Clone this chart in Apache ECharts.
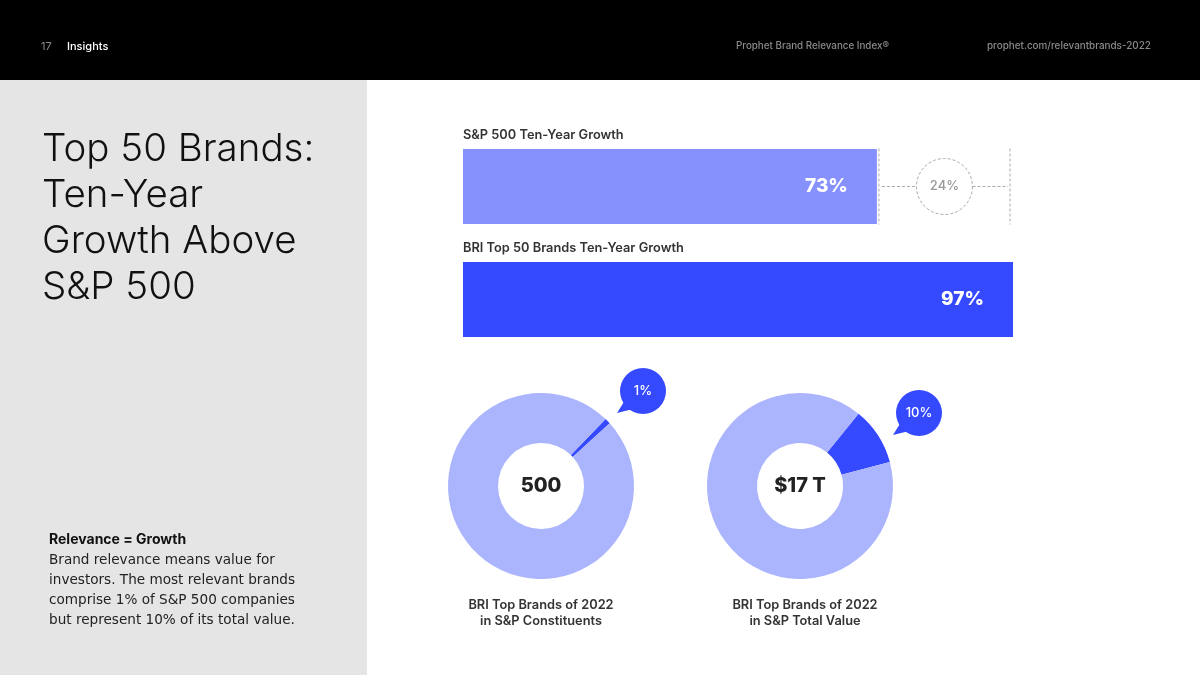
<!DOCTYPE html>
<html><head><meta charset="utf-8">
<script src="https://cdn.jsdelivr.net/npm/echarts@6/dist/echarts.min.js"></script>
<style>html,body{margin:0;padding:0;background:#fff}#c{width:1200px;height:675px}</style>
</head><body><div id="c"></div>
<script>
const barCategories = ['S&P 500 Ten-Year Growth', 'BRI Top 50 Brands Ten-Year Growth'];
const barValues = [73, 97];
const gapLabel = '24%';
const donutShares = [1, 10];
const donutCenterLabels = ['500', '$17 T'];
const donutCaptions = ['BRI Top Brands of 2022\nin S&P Constituents', 'BRI Top Brands of 2022\nin S&P Total Value'];
const titleLines = ['Top 50 Brands:', 'Ten-Year', 'Growth Above', 'S&P 500'];
const noteHead = 'Relevance = Growth';
const noteLines = ['Brand relevance means value for', 'investors. The most relevant brands', 'comprise 1% of S&P 500 companies', 'but represent 10% of its total value.'];

const C_BAR1 = '#8791fe', C_BAR2 = '#3549ff', C_LIGHT = '#abb5fd', C_DARK = '#3549ff';
const FONT = 'Inter, "Liberation Sans", sans-serif';

const chart = echarts.init(document.getElementById('c'), null, {renderer: 'canvas'});
const donutCenters = [[541, 486], [800, 486]];

const pieSeries = donutShares.map((s, i) => ({
  type: 'pie', radius: [43, 93], center: donutCenters[i],
  startAngle: i === 0 ? 46 : 51, clockwise: true, silent: true,
  label: {show: false}, labelLine: {show: false}, emphasis: {disabled: true},
  data: [{value: s, itemStyle: {color: C_DARK}}, {value: 100 - s, itemStyle: {color: C_LIGHT}}]
}));

chart.setOption({
  animation: false,
  backgroundColor: '#fff',
  grid: {left: 463, width: 550, top: 130, height: 226},
  xAxis: {type: 'value', min: 0, max: 97, show: false},
  yAxis: {type: 'category', data: barCategories, inverse: true, show: false},
  series: [{
    type: 'bar', barWidth: 75, silent: true,
    data: barValues.map((v, i) => ({value: v, itemStyle: {color: i === 0 ? C_BAR1 : C_BAR2}})),
    label: {show: true, position: 'insideRight', distance: 29, color: '#fff', fontSize: 19, fontWeight: 800, fontFamily: FONT, formatter: p => p.value + '%'}
  }].concat(pieSeries)
});

const g = [];
// left panel & header
g.push({type: 'rect', z: -10, shape: {x: 0, y: 80, width: 367, height: 595}, style: {fill: '#e5e5e5'}});
g.push({type: 'rect', z: -10, shape: {x: 0, y: 0, width: 1200, height: 80}, style: {fill: '#000'}});
g.push({type: 'text', x: 41, y: 47, style: {text: '17', fill: '#8a8a8a', font: '400 11px ' + FONT, verticalAlign: 'middle'}});
g.push({type: 'text', x: 67, y: 47, style: {text: 'Insights', fill: '#fff', font: '500 11px ' + FONT, verticalAlign: 'middle'}});
g.push({type: 'text', x: 736, y: 46, style: {text: 'Prophet Brand Relevance Index®', fill: '#8a8a8a', font: '500 9.8px ' + FONT, verticalAlign: 'middle'}});
g.push({type: 'text', x: 987, y: 46, style: {text: 'prophet.com/relevantbrands-2022', fill: '#8a8a8a', font: '500 9.9px ' + FONT, verticalAlign: 'middle'}});
// title
titleLines.forEach((t, i) => g.push({type: 'text', x: 42, y: 149 + i * 46, style: {text: t, fill: '#111', font: '300 38.5px ' + FONT, verticalAlign: 'middle'}}));
// note
g.push({type: 'text', x: 49, y: 540, style: {text: noteHead, fill: '#111', font: '700 14px ' + FONT, verticalAlign: 'middle'}});
noteLines.forEach((t, i) => g.push({type: 'text', x: 49, y: 560 + i * 20, style: {text: t, fill: '#222', font: '400 13.6px "DejaVu Sans", sans-serif', verticalAlign: 'middle'}}));

// bar category labels
barCategories.forEach((c, i) => {
  const y = chart.convertToPixel({yAxisIndex: 0}, i);
  g.push({type: 'text', x: 463, y: y - 51.5, style: {text: c, fill: '#333', font: '600 12.8px ' + FONT, verticalAlign: 'middle'}});
});
// gap annotation
const x73 = chart.convertToPixel({xAxisIndex: 0}, barValues[0]) + 2;
const x97 = chart.convertToPixel({xAxisIndex: 0}, barValues[1]) - 3;
const yb = chart.convertToPixel({yAxisIndex: 0}, 0);
const dash = {stroke: '#aaa', lineWidth: 1, lineDash: [3, 2]};
const cx = (x73 + x97) / 2, r = 28;
g.push({type: 'line', shape: {x1: x73, y1: yb - 38, x2: x73, y2: yb + 38}, style: dash});
g.push({type: 'line', shape: {x1: x97, y1: yb - 38, x2: x97, y2: yb + 38}, style: dash});
g.push({type: 'line', shape: {x1: x73 + 3, y1: yb, x2: cx - r, y2: yb}, style: dash});
g.push({type: 'line', shape: {x1: cx + r, y1: yb, x2: x97 - 2, y2: yb}, style: dash});
g.push({type: 'circle', shape: {cx: cx, cy: yb, r: r}, style: Object.assign({fill: 'none'}, dash)});
g.push({type: 'text', x: cx, y: yb, style: {text: gapLabel, fill: '#999', font: '500 13px ' + FONT, align: 'center', verticalAlign: 'middle'}});

// donut centers, captions, callouts
const bubbles = [[643, 391], [919, 413]];
donutCenters.forEach((c, i) => {
  g.push({type: 'text', x: c[0], y: c[1], style: {text: donutCenterLabels[i], fill: '#222', font: '800 20px ' + FONT, align: 'center', verticalAlign: 'middle'}});
  g.push({type: 'text', x: c[0] + (i ? 5 : 0), y: 613, style: {text: donutCaptions[i], fill: '#333', font: '600 12.8px ' + FONT, align: 'center', verticalAlign: 'middle', lineHeight: 16}});
  const b = bubbles[i];
  g.push({type: 'polygon', shape: {points: [[b[0] - 16, b[1] + 6], [b[0] - 6, b[1] + 17], [b[0] - 26, b[1] + 22]]}, style: {fill: C_DARK}});
  g.push({type: 'circle', shape: {cx: b[0], cy: b[1], r: 23}, style: {fill: C_DARK}});
  g.push({type: 'text', x: b[0], y: b[1], style: {text: donutShares[i] + '%', fill: '#fff', font: '500 13px ' + FONT, align: 'center', verticalAlign: 'middle'}});
});

chart.setOption({graphic: {elements: g}});
</script></body></html>
